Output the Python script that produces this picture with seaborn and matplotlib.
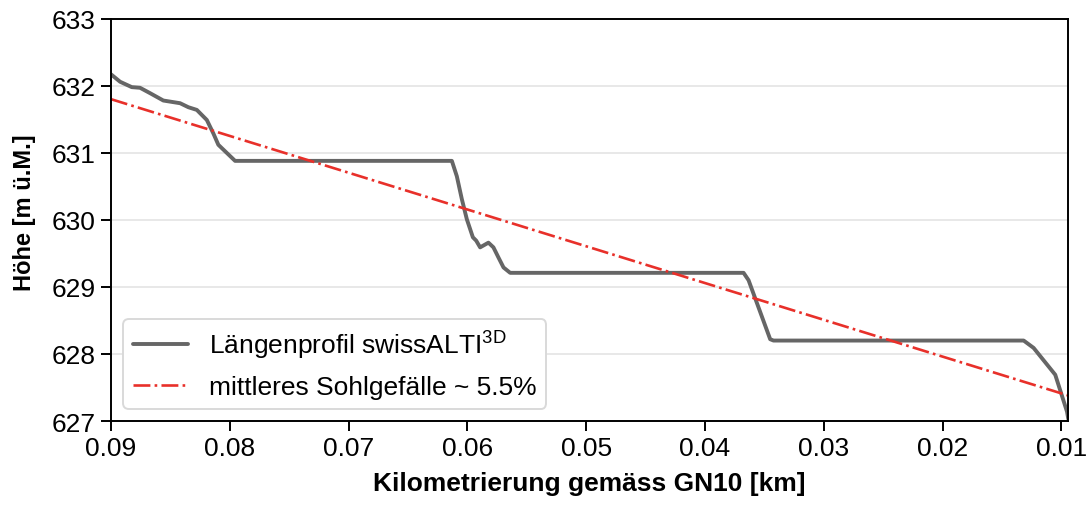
import numpy as np
import pandas as pd
import matplotlib
matplotlib.use("Agg")
import matplotlib.pyplot as plt
import seaborn as sns

km_profil = [0.0900, 0.08924, 0.08826, 0.08756, 0.08672, 0.08560, 0.08419, 0.08349,
             0.08278, 0.08194, 0.08139, 0.08097, 0.07956, 0.06131, 0.06089, 0.06047,
             0.06005, 0.05954, 0.05926, 0.05893, 0.05823, 0.05781, 0.05739, 0.05696,
             0.05640, 0.03675, 0.03633, 0.03451, 0.03423, 0.01317, 0.01233, 0.01051,
             0.00952, 0.00941]
hoehe_profil = [632.17, 632.06, 631.98, 631.97, 631.89, 631.78, 631.74, 631.68, 631.64,
                631.49, 631.29, 631.12, 630.88, 630.88, 630.65, 630.31, 630.01, 629.74,
                629.69, 629.59, 629.66, 629.59, 629.44, 629.29, 629.21, 629.21, 629.10,
                628.22, 628.20, 628.20, 628.09, 627.69, 627.14, 627.03]

# mittleres Sohlgefälle
km_gefaelle = [0.09, 0.00941]
hoehe_gefaelle = [631.80, 627.38]

x_ticks = [0.09, 0.08, 0.07, 0.06, 0.05, 0.04, 0.03, 0.02, 0.01]
y_ticks = [627, 628, 629, 630, 631, 632, 633]

sns.set_style("ticks")
plt.rcParams['font.family'] = ['Liberation Sans', 'DejaVu Sans']
plt.rcParams['mathtext.fontset'] = 'custom'
plt.rcParams['mathtext.rm'] = 'Liberation Sans'
plt.rcParams['mathtext.it'] = 'Liberation Sans'
for k in ['text.color', 'axes.labelcolor', 'xtick.color', 'ytick.color']:
    plt.rcParams[k] = 'black'

df_profil = pd.DataFrame({"km": km_profil, "hoehe": hoehe_profil})
df_gefaelle = pd.DataFrame({"km": km_gefaelle, "hoehe": hoehe_gefaelle})

fig, ax = plt.subplots(figsize=(10.89, 5.06), dpi=100)
sns.lineplot(data=df_profil, x="km", y="hoehe", color="#666666", linewidth=2.8,
             label=r"Längenprofil swissALTI$^{\mathrm{3D}}$", ax=ax, sort=False)
sns.lineplot(data=df_gefaelle, x="km", y="hoehe", color="#e8302a", linewidth=1.9,
             linestyle="-.", label="mittleres Sohlgefälle ~ 5.5%", ax=ax, sort=False)

ax.set_xlim(0.09, 0.00941)
ax.set_ylim(627, 633)
ax.set_xticks(x_ticks)
ax.set_xticklabels([f"{t:.2f}" for t in x_ticks])
ax.set_yticks(y_ticks)
ax.yaxis.grid(True, color="#e6e6e6", linewidth=1.3)
ax.set_axisbelow(True)
ax.tick_params(axis="both", labelsize=19, length=7, width=1.4, direction="out", pad=4)
for s in ax.spines.values():
    s.set_linewidth(1.4)
    s.set_color("black")

ax.set_xlabel("Kilometrierung gemäss GN10 [km]", fontsize=19, fontweight="bold", labelpad=8)
ax.set_ylabel("Höhe [m ü.M.]", fontsize=17, fontweight="bold", labelpad=11)
ax.yaxis.set_label_coords(-0.078, 0.52)

leg = ax.legend(loc="lower left", fontsize=19, frameon=True, fancybox=True,
                handlelength=2.1, handletextpad=0.8, borderpad=0.35, labelspacing=0.55,
                borderaxespad=0.47)
leg.get_frame().set_edgecolor("#d9d9d9")
leg.get_frame().set_linewidth(1.4)
leg.get_frame().set_alpha(1.0)

plt.subplots_adjust(left=0.102, right=0.981, top=0.961, bottom=0.166)
plt.savefig("out.png", dpi=100)
